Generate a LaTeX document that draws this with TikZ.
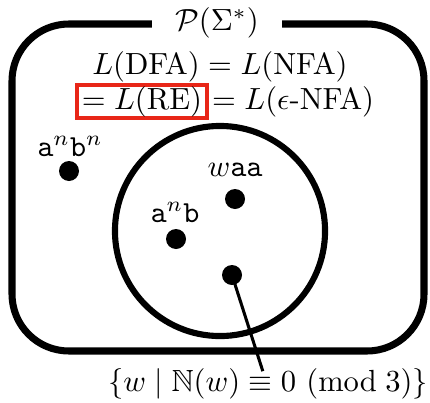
\documentclass[tikz,border=0pt]{standalone}
\usepackage{amsmath,amssymb}
\definecolor{boxred}{RGB}{232,38,24}
\begin{document}
\begin{tikzpicture}[x=0.327pt,y=-0.327pt,
  dot/.style={circle,fill=black,minimum size=6.54pt,inner sep=0pt},
  setline/.style={line width=2.3pt},
  txt/.style={inner sep=0pt}]
\useasboundingbox (0,0) rectangle (430,402);
% universe box
\draw[setline,rounded corners=18.6pt] (12,24) rectangle (424,351);
\node[fill=white,inner xsep=7.6pt,inner ysep=2pt] (univ) at (217,23) {$\mathcal{P}(\Sigma^*)$};
% regular languages circle
\node[draw,circle,line width=2pt,minimum size=68.7pt,inner sep=0pt] (reg) at (220,231) {};
% top texts
\node[txt] (l1) at (220,67) {$L(\mathrm{DFA}) = L(\mathrm{NFA})$};
\node[draw=boxred,line width=1pt,inner sep=0pt,minimum width=42.5pt,minimum height=10.8pt] (r1) at (142,101.5) {$=L(\mathrm{RE})$\hspace{1pt}};
\node[txt,anchor=base west] (r2) at ([xshift=1pt]r1.base east) {$= L(\epsilon\text{-NFA})$};
% dots and labels
\node[dot] (d0) at (69,171) {};
\node[txt] (t0) at (70,146) {$\mathtt{a}^n\mathtt{b}^n$};
\node[dot] (d1) at (235,199) {};
\node[txt] (t1) at (235,170) {$w\mathtt{aa}$};
\node[dot] (d2) at (176,239) {};
\node[txt] (t2) at (175,212) {$\mathtt{a}^n\mathtt{b}$};
\node[dot] (d3) at (232,275) {};
\node[txt] (lbl) at (268,384) {$\{w \mid \mathbb{N}(w) \equiv 0\ (\mathrm{mod}\;3)\}$};
\draw[line width=1pt] (d3.center) -- ([xshift=-1.7pt,yshift=-1pt]lbl.north);
\end{tikzpicture}
\end{document}
